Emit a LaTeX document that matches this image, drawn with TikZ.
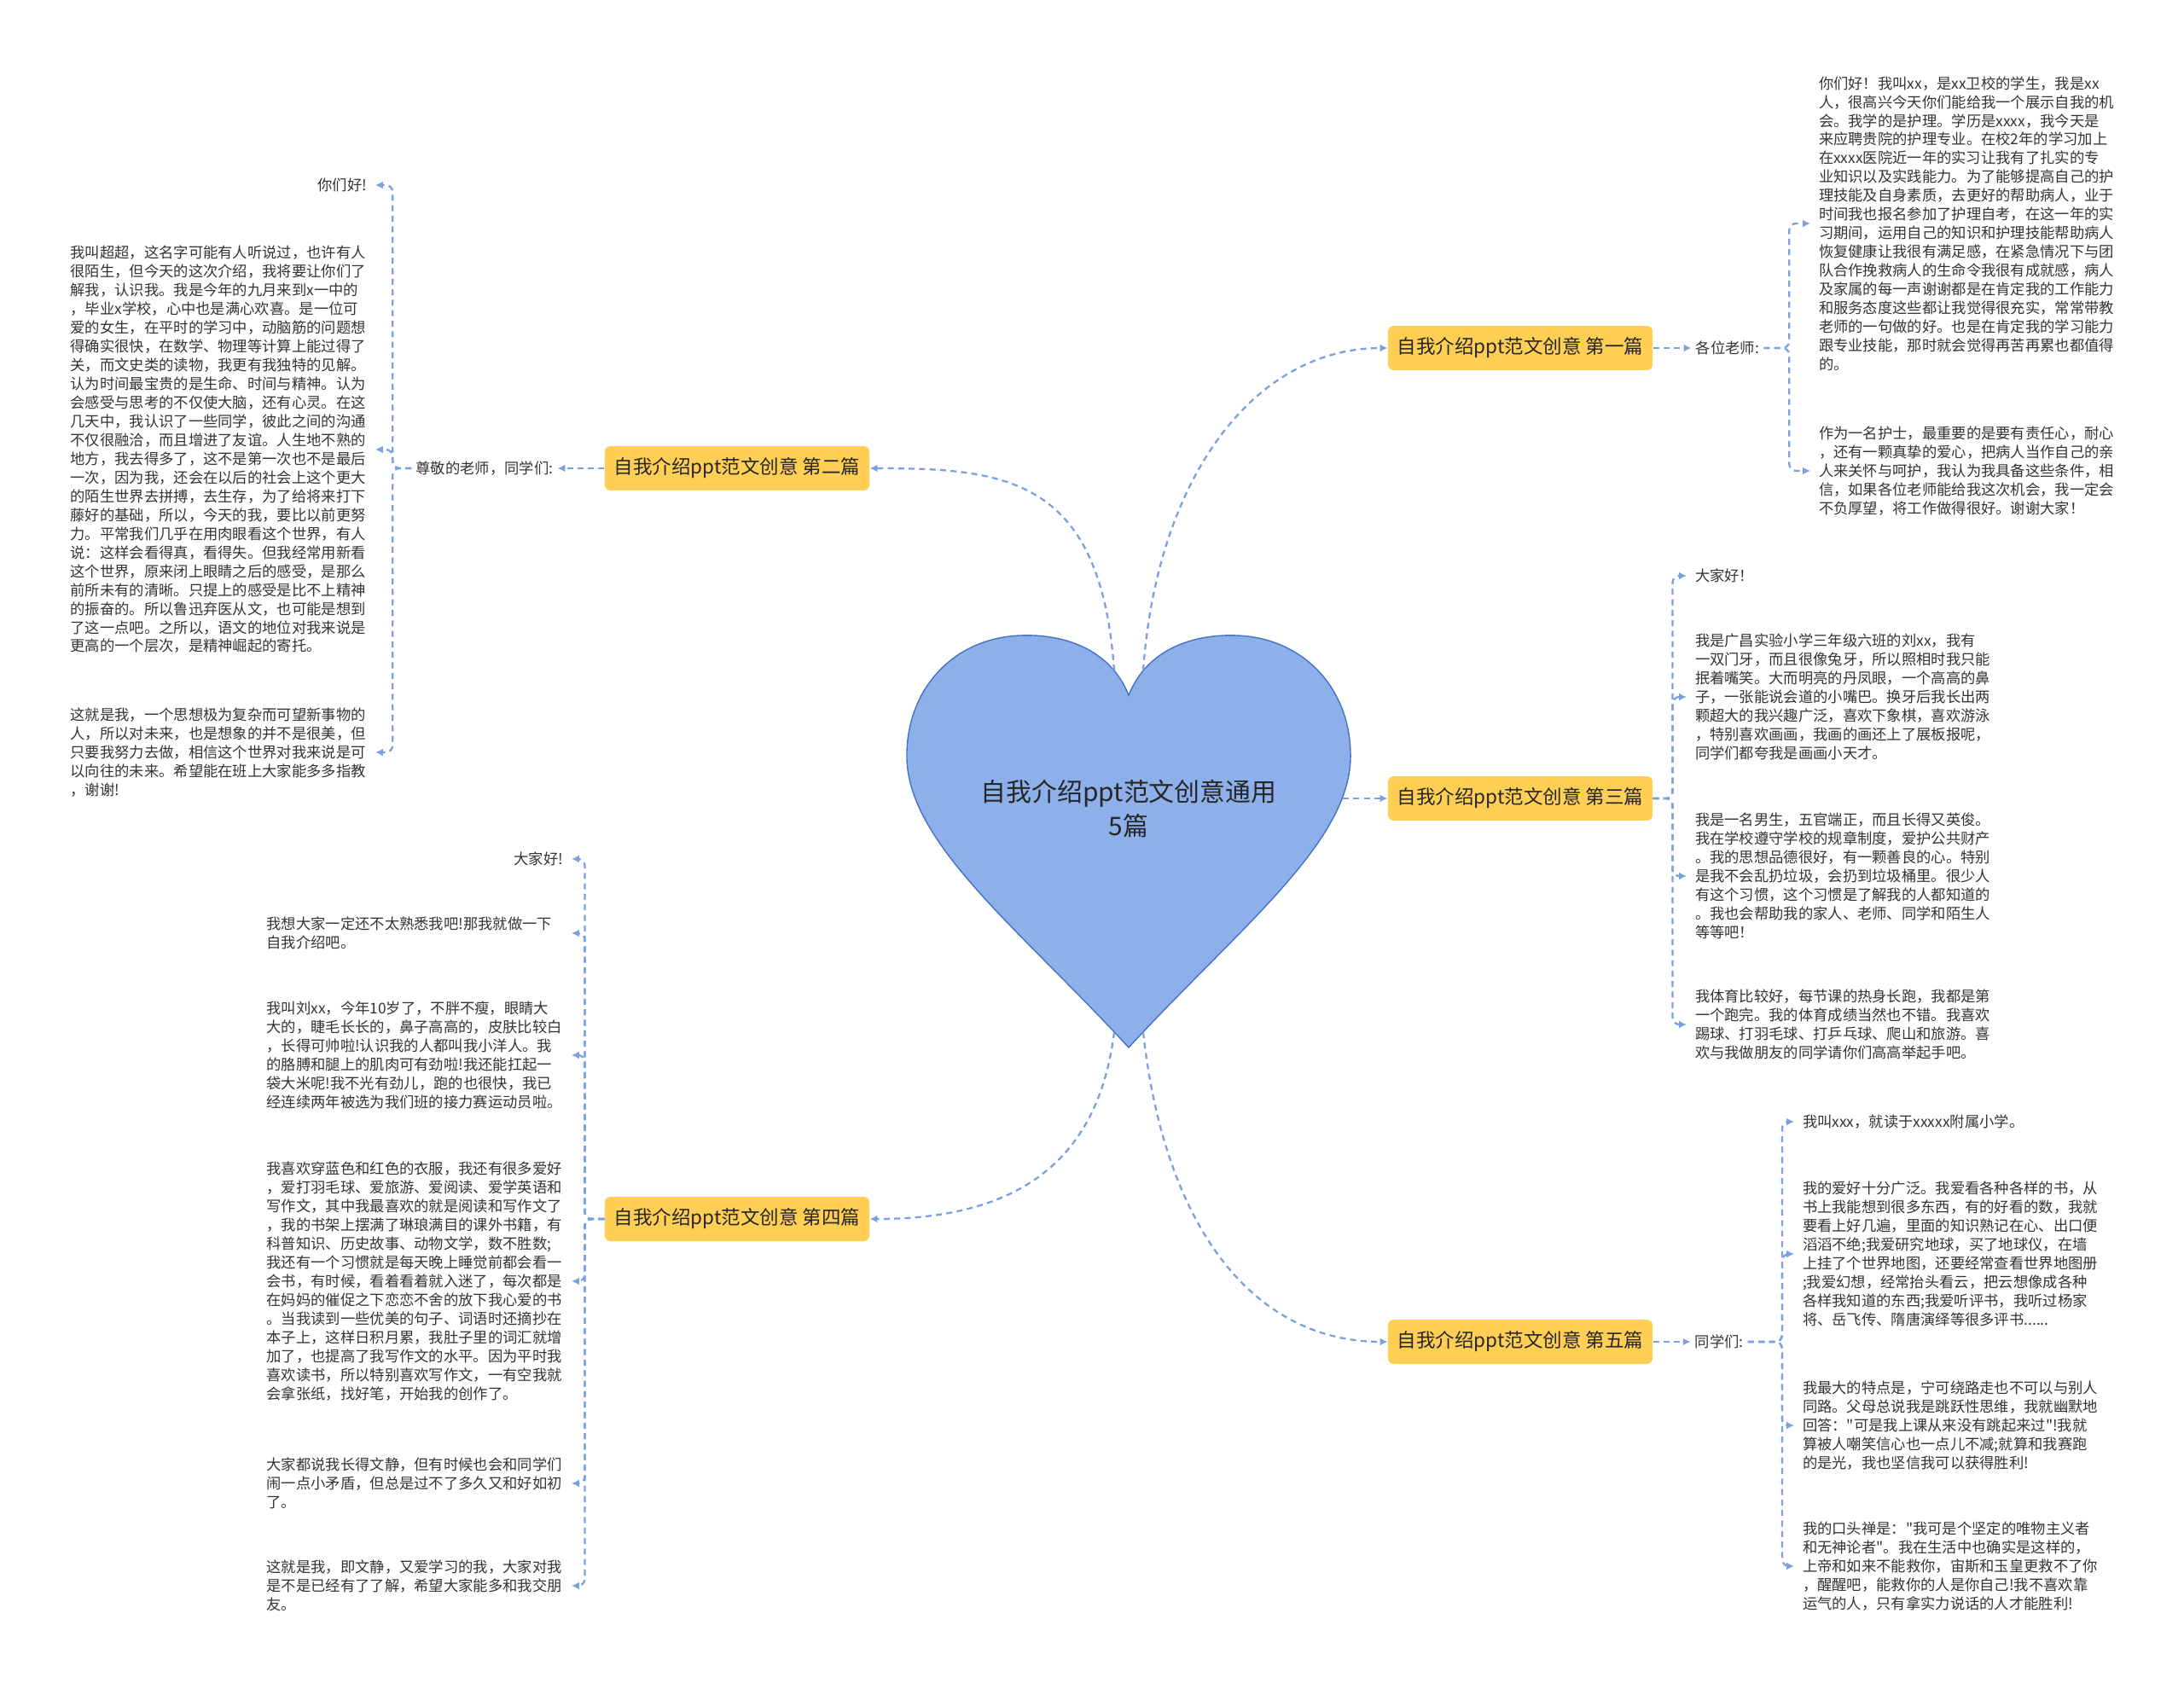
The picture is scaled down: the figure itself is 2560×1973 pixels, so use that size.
\documentclass[tikz,border=0pt]{standalone}
\usepackage{fontspec}
\newfontfamily\cjkfont{Noto Sans CJK SC}
\usetikzlibrary{arrows.meta, positioning}
\definecolor{linkblue}{HTML}{7BA0E0}
\definecolor{topicyellow}{HTML}{FFCF55}
\definecolor{heartfill}{HTML}{8DB0EA}
\definecolor{heartline}{HTML}{4672C4}
\definecolor{bodygray}{HTML}{333333}
\tikzset{
  root/.style={align=center,font=\cjkfont\fontsize{17}{23}\selectfont,text=black!85},
  topic/.style={rectangle,fill=topicyellow,rounded corners=0.14cm,minimum height=1.04cm,inner xsep=0.22cm,font=\cjkfont\fontsize{12.8}{15}\selectfont,text=black!85},
  tag/.style={inner sep=0.1cm,font=\cjkfont\fontsize{9.85}{12.5}\selectfont,text=bodygray},
  para/.style={inner sep=0pt,outer xsep=0.2cm,align=left,font=\cjkfont\fontsize{9.85}{12.5}\selectfont,text=bodygray},
  lpara/.style={para,text width=6.95cm},
  link/.style={draw=linkblue,line width=1.3pt,dash pattern=on 4pt off 3pt,-{Latex[length=5pt,width=5pt]}},
  fork/.style={link,rounded corners=0.16cm}
}
\begin{document}
\begin{tikzpicture}[x=0.02cm,y=-0.02cm]
\useasboundingbox (0,0) rectangle (2560,1973);
\fill[white] (0,0) rectangle (2560,1973);
\filldraw[fill=heartfill,draw=heartline,line width=0.8pt] (1323,815) .. controls (1345,760) and (1400,743) .. (1450,745) .. controls (1530,748) and (1585,810) .. (1583,890) .. controls (1580,990) and (1450,1090) .. (1323,1228) .. controls (1196,1090) and (1066,990) .. (1063,890) .. controls (1061,810) and (1116,748) .. (1196,745) .. controls (1246,743) and (1301,760) .. cycle;
\node[root] (core) at (1323,948) {自我介绍ppt范文创意通用\\5篇};
\coordinate (h1) at (1340,786);
\coordinate (h2) at (1306,786);
\coordinate (h3) at (1574,936);
\coordinate (h4) at (1306,1210);
\coordinate (h5) at (1340,1210);

\node[topic] (b1) at (1782,408) {自我介绍ppt范文创意 第一篇};
\node[topic] (b2) at (864,549) {自我介绍ppt范文创意 第二篇};
\node[topic] (b3) at (1782,936) {自我介绍ppt范文创意 第三篇};
\node[topic] (b4) at (864,1429) {自我介绍ppt范文创意 第四篇};
\node[topic] (b5) at (1782,1573) {自我介绍ppt范文创意 第五篇};

\node[tag, right=0.9cm of b1] (l1) {各位老师:};
\node[tag, left=1.1cm of b2] (l2) {尊敬的老师，同学们:};
\node[tag, right=0.88cm of b5] (l5) {同学们:};

\node[para, anchor=west] (t1a) at (2122,262) {你们好！我叫xx，是xx卫校的学生，我是xx\\
人，很高兴今天你们能给我一个展示自我的机\\
会。我学的是护理。学历是xxxx，我今天是\\
来应聘贵院的护理专业。在校2年的学习加上\\
在xxxx医院近一年的实习让我有了扎实的专\\
业知识以及实践能力。为了能够提高自己的护\\
理技能及自身素质，去更好的帮助病人，业于\\
时间我也报名参加了护理自考，在这一年的实\\
习期间，运用自己的知识和护理技能帮助病人\\
恢复健康让我很有满足感，在紧急情况下与团\\
队合作挽救病人的生命令我很有成就感，病人\\
及家属的每一声谢谢都是在肯定我的工作能力\\
和服务态度这些都让我觉得很充实，常常带教\\
老师的一句做的好。也是在肯定我的学习能力\\
跟专业技能，那时就会觉得再苦再累也都值得\\
的。};
\node[para, anchor=west] (t1b) at (2122,552) {作为一名护士，最重要的是要有责任心，耐心\\
，还有一颗真挚的爱心，把病人当作自己的亲\\
人来关怀与呵护，我认为我具备这些条件，相\\
信，如果各位老师能给我这次机会，我一定会\\
不负厚望，将工作做得很好。谢谢大家！};

\node[lpara, align=right, anchor=east] (c2a) at (440,217) {你们好!};
\node[lpara, anchor=east] (c2b) at (440,527) {我叫超超，这名字可能有人听说过，也许有人\\
很陌生，但今天的这次介绍，我将要让你们了\\
解我，认识我。我是今年的九月来到x一中的\\
，毕业x学校，心中也是满心欢喜。是一位可\\
爱的女生，在平时的学习中，动脑筋的问题想\\
得确实很快，在数学、物理等计算上能过得了\\
关，而文史类的读物，我更有我独特的见解。\\
认为时间最宝贵的是生命、时间与精神。认为\\
会感受与思考的不仅使大脑，还有心灵。在这\\
几天中，我认识了一些同学，彼此之间的沟通\\
不仅很融洽，而且增进了友谊。人生地不熟的\\
地方，我去得多了，这不是第一次也不是最后\\
一次，因为我，还会在以后的社会上这个更大\\
的陌生世界去拼搏，去生存，为了给将来打下\\
藤好的基础，所以，今天的我，要比以前更努\\
力。平常我们几乎在用肉眼看这个世界，有人\\
说：这样会看得真，看得失。但我经常用新看\\
这个世界，原来闭上眼睛之后的感受，是那么\\
前所未有的清晰。只提上的感受是比不上精神\\
的振奋的。所以鲁迅弃医从文，也可能是想到\\
了这一点吧。之所以，语文的地位对我来说是\\
更高的一个层次，是精神崛起的寄托。};
\node[lpara, anchor=east] (c2c) at (440,882) {这就是我，一个思想极为复杂而可望新事物的\\
人，所以对未来，也是想象的并不是很美，但\\
只要我努力去做，相信这个世界对我来说是可\\
以向往的未来。希望能在班上大家能多多指教\\
，谢谢!};

\node[para, anchor=west] (t3a) at (1977,675) {大家好！};
\node[para, anchor=west] (t3b) at (1977,817) {我是广昌实验小学三年级六班的刘xx，我有\\
一双门牙，而且很像兔牙，所以照相时我只能\\
抿着嘴笑。大而明亮的丹凤眼，一个高高的鼻\\
子，一张能说会道的小嘴巴。换牙后我长出两\\
颗超大的我兴趣广泛，喜欢下象棋，喜欢游泳\\
，特别喜欢画画，我画的画还上了展板报呢，\\
同学们都夸我是画画小天才。};
\node[para, anchor=west] (t3c) at (1977,1027) {我是一名男生，五官端正，而且长得又英俊。\\
我在学校遵守学校的规章制度，爱护公共财产\\
。我的思想品德很好，有一颗善良的心。特别\\
是我不会乱扔垃圾，会扔到垃圾桶里。很少人\\
有这个习惯，这个习惯是了解我的人都知道的\\
。我也会帮助我的家人、老师、同学和陌生人\\
等等吧！};
\node[para, anchor=west] (t3d) at (1977,1201) {我体育比较好，每节课的热身长跑，我都是第\\
一个跑完。我的体育成绩当然也不错。我喜欢\\
踢球、打羽毛球、打乒乓球、爬山和旅游。喜\\
欢与我做朋友的同学请你们高高举起手吧。};

\node[lpara, align=right, anchor=east] (c4a) at (670,1007) {大家好!};
\node[lpara, anchor=east] (c4b) at (670,1094) {我想大家一定还不太熟悉我吧!那我就做一下\\
自我介绍吧。};
\node[lpara, anchor=east] (c4c) at (670,1237) {我叫刘xx，今年10岁了，不胖不瘦，眼睛大\\
大的，睫毛长长的，鼻子高高的，皮肤比较白\\
，长得可帅啦!认识我的人都叫我小洋人。我\\
的胳膊和腿上的肌肉可有劲啦!我还能扛起一\\
袋大米呢!我不光有劲儿，跑的也很快，我已\\
经连续两年被选为我们班的接力赛运动员啦。};
\node[lpara, anchor=east] (c4d) at (670,1502) {我喜欢穿蓝色和红色的衣服，我还有很多爱好\\
，爱打羽毛球、爱旅游、爱阅读、爱学英语和\\
写作文，其中我最喜欢的就是阅读和写作文了\\
，我的书架上摆满了琳琅满目的课外书籍，有\\
科普知识、历史故事、动物文学，数不胜数;\\
我还有一个习惯就是每天晚上睡觉前都会看一\\
会书，有时候，看着看着就入迷了，每次都是\\
在妈妈的催促之下恋恋不舍的放下我心爱的书\\
。当我读到一些优美的句子、词语时还摘抄在\\
本子上，这样日积月累，我肚子里的词汇就增\\
加了，也提高了我写作文的水平。因为平时我\\
喜欢读书，所以特别喜欢写作文，一有空我就\\
会拿张纸，找好笔，开始我的创作了。};
\node[lpara, anchor=east] (c4e) at (670,1739) {大家都说我长得文静，但有时候也会和同学们\\
闹一点小矛盾，但总是过不了多久又和好如初\\
了。};
\node[lpara, anchor=east] (c4f) at (670,1859) {这就是我，即文静，又爱学习的我，大家对我\\
是不是已经有了了解，希望大家能多和我交朋\\
友。};

\node[para, anchor=west] (t5a) at (2103,1315) {我叫xxx，就读于xxxxx附属小学。};
\node[para, anchor=west] (t5b) at (2103,1470) {我的爱好十分广泛。我爱看各种各样的书，从\\
书上我能想到很多东西，有的好看的数，我就\\
要看上好几遍，里面的知识熟记在心、出口便\\
滔滔不绝;我爱研究地球，买了地球仪，在墙\\
上挂了个世界地图，还要经常查看世界地图册\\
;我爱幻想，经常抬头看云，把云想像成各种\\
各样我知道的东西;我爱听评书，我听过杨家\\
将、岳飞传、隋唐演绎等很多评书......};
\node[para, anchor=west] (t5c) at (2103,1671) {我最大的特点是，宁可绕路走也不可以与别人\\
同路。父母总说我是跳跃性思维，我就幽默地\\
回答："可是我上课从来没有跳起来过"!我就\\
算被人嘲笑信心也一点儿不减;就算和我赛跑\\
的是光，我也坚信我可以获得胜利!};
\node[para, anchor=west] (t5d) at (2103,1836) {我的口头禅是："我可是个坚定的唯物主义者\\
和无神论者"。我在生活中也确实是这样的，\\
上帝和如来不能救你，宙斯和玉皇更救不了你\\
，醒醒吧，能救你的人是你自己!我不喜欢靠\\
运气的人，只有拿实力说话的人才能胜利!};

\draw[link] (h1) .. controls (1356,560) and (1470,408) .. (b1.west);
\draw[link] (h2) .. controls (1290,560) and (1180,549) .. (b2.east);
\draw[link] (h3) -- (b3.west);
\draw[link] (h4) .. controls (1285,1380) and (1170,1429) .. (b4.east);
\draw[link] (h5) .. controls (1365,1440) and (1470,1573) .. (b5.west);
\draw[link] (b1) -- (l1);
\draw[link] (b2) -- (l2);
\draw[link] (b5) -- (l5);

\draw[fork] (l1.east) -- ++(30,0) |- (t1a.west);
\draw[fork] (l1.east) -- ++(30,0) |- (t1b.west);
\draw[fork] (l2.west) -- ++(-22,0) |- (c2a.east);
\draw[fork] (l2.west) -- ++(-22,0) |- (c2b.east);
\draw[fork] (l2.west) -- ++(-22,0) |- (c2c.east);
\draw[fork] (b3.east) -- ++(23,0) |- (t3a.west);
\draw[fork] (b3.east) -- ++(23,0) |- (t3b.west);
\draw[fork] (b3.east) -- ++(23,0) |- (t3c.west);
\draw[fork] (b3.east) -- ++(23,0) |- (t3d.west);
\draw[fork] (b4.west) -- ++(-23,0) |- (c4a.east);
\draw[fork] (b4.west) -- ++(-23,0) |- (c4b.east);
\draw[fork] (b4.west) -- ++(-23,0) |- (c4c.east);
\draw[fork] (b4.west) -- ++(-23,0) |- (c4d.east);
\draw[fork] (b4.west) -- ++(-23,0) |- (c4e.east);
\draw[fork] (b4.west) -- ++(-23,0) |- (c4f.east);
\draw[fork] (l5.east) -- ++(40,0) |- (t5a.west);
\draw[fork] (l5.east) -- ++(40,0) |- (t5b.west);
\draw[fork] (l5.east) -- ++(40,0) |- (t5c.west);
\draw[fork] (l5.east) -- ++(40,0) |- (t5d.west);
\end{tikzpicture}
\end{document}
